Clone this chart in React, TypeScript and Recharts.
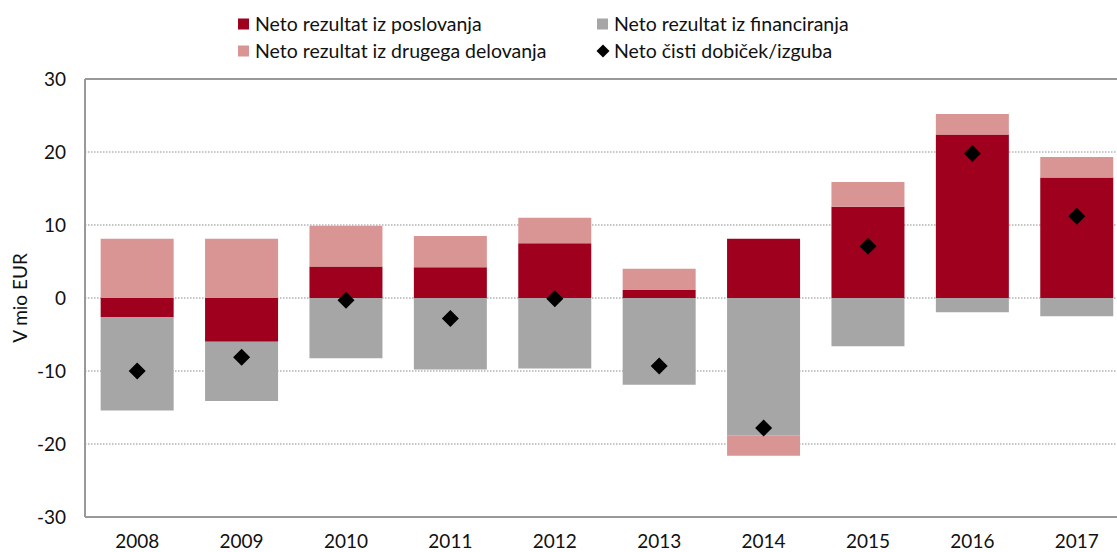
import React from "react";
import {
  ComposedChart,
  Bar,
  Line,
  XAxis,
  YAxis,
  CartesianGrid,
  ReferenceLine,
} from "recharts";

const years = ["2008", "2009", "2010", "2011", "2012", "2013", "2014", "2015", "2016", "2017"];
const poslovanje = [-2.6, -6.0, 4.3, 4.2, 7.5, 1.1, 8.1, 12.5, 22.4, 16.5];
const financiranje = [-12.8, -8.1, -8.25, -9.8, -9.65, -11.9, -18.8, -6.6, -1.95, -2.5];
const drugo = [8.1, 8.1, 5.6, 4.3, 3.5, 2.9, -2.8, 3.4, 2.8, 2.8];
const dobicek = [-10.0, -8.1, -0.3, -2.8, -0.1, -9.3, -17.8, 7.1, 19.8, 11.2];
const yTicks = [-30, -20, -10, 0, 10, 20, 30];

const seriesNames = {
  poslovanje: "Neto rezultat iz poslovanja",
  financiranje: "Neto rezultat iz financiranja",
  drugo: "Neto rezultat iz drugega delovanja",
  dobicek: "Neto čisti dobiček/izguba",
};

const COLORS = {
  poslovanje: "#9E001E",
  financiranje: "#A6A6A6",
  drugo: "#D99594",
  dobicek: "#000000",
};

const data = years.map((y, i) => ({
  year: y,
  poslovanje: poslovanje[i],
  financiranje: financiranje[i],
  drugo: drugo[i],
  dobicek: dobicek[i],
}));

const FONT = "Lato, 'Open Sans', sans-serif";
const FS = 19;

const Diamond = (props: any) => {
  const { cx, cy } = props;
  if (cx == null || cy == null) return null;
  const r = 8.5;
  return (
    <polygon
      points={`${cx},${cy - r} ${cx + r},${cy} ${cx},${cy + r} ${cx - r},${cy}`}
      fill="#000"
    />
  );
};

const XTick = (props: any) => {
  const { x, payload } = props;
  return (
    <text x={x} y={548} textAnchor="middle" fontFamily={FONT} fontSize={FS} fill="#111">
      {payload.value}
    </text>
  );
};

const YTick = (props: any) => {
  const { y, payload } = props;
  return (
    <text x={66} y={y} dy="0.35em" textAnchor="end" fontFamily={FONT} fontSize={FS} fill="#111">
      {payload.value}
    </text>
  );
};

const LegendOverlay = () => {
  const items = [
    { key: "poslovanje", x: 238, y: 24, type: "square" },
    { key: "financiranje", x: 597, y: 24, type: "square" },
    { key: "drugo", x: 238, y: 51, type: "square" },
    { key: "dobicek", x: 597, y: 51, type: "diamond" },
  ];
  return (
    <svg
      width={1117}
      height={75}
      style={{ position: "absolute", left: 0, top: 0, pointerEvents: "none" }}
    >
      {items.map((it) => (
        <g key={it.key}>
          {it.type === "square" ? (
            <rect x={it.x} y={it.y - 5.5} width={11} height={11} fill={(COLORS as any)[it.key]} />
          ) : (
            <polygon
              points={`${it.x + 6},${it.y - 6.5} ${it.x + 12.5},${it.y} ${it.x + 6},${it.y + 6.5} ${it.x - 0.5},${it.y}`}
              fill="#000"
            />
          )}
          <text
            x={it.x + 17}
            y={it.y}
            dy="0.35em"
            fontFamily={FONT}
            fontSize={19.5}
            fill="#111"
          >
            {(seriesNames as any)[it.key]}
          </text>
        </g>
      ))}
    </svg>
  );
};

export default function App() {
  return (
    <div
      style={{
        position: "absolute",
        left: 0,
        top: 0,
        width: 1117,
        height: 552,
        overflow: "hidden",
        background: "#fff",
      }}
    >
      <ComposedChart
        width={1129}
        height={552}
        data={data}
        stackOffset="sign"
        barCategoryGap="15%"
        margin={{ top: 79, right: 0, bottom: 5, left: 25 }}
      >
        <CartesianGrid
          vertical={false}
          stroke="#8a8a8a"
          strokeDasharray="1.5 1.5"
          strokeWidth={1}
        />
        <XAxis
          dataKey="year"
          height={30}
          axisLine={{ stroke: "#999", strokeWidth: 2 }}
          tickLine={false}
          tick={<XTick />}
          interval={0}
        />
        <YAxis
          width={60}
          domain={[-30, 30]}
          ticks={yTicks}
          type="number"
          axisLine={{ stroke: "#999", strokeWidth: 2 }}
          tickLine={false}
          tick={<YTick />}
          interval={0}
          label={{
            value: "V mio EUR",
            angle: -90,
            position: "insideLeft",
            content: (p: any) => {
              const vb = p.viewBox || {};
              const cy = (vb.y ?? 79) + (vb.height ?? 438) / 2;
              return (
                <text
                  x={27}
                  y={cy}
                  transform={`rotate(-90, 27, ${cy})`}
                  textAnchor="middle"
                  fontFamily={FONT}
                  fontSize={FS}
                  fill="#111"
                >
                  V mio EUR
                </text>
              );
            },
          }}
        />
        <ReferenceLine y={30} stroke="#999" strokeWidth={2} />
        <Bar dataKey="poslovanje" name={seriesNames.poslovanje} stackId="a" fill={COLORS.poslovanje} isAnimationActive={false} />
        <Bar dataKey="financiranje" name={seriesNames.financiranje} stackId="a" fill={COLORS.financiranje} isAnimationActive={false} />
        <Bar dataKey="drugo" name={seriesNames.drugo} stackId="a" fill={COLORS.drugo} isAnimationActive={false} />
        <Line
          dataKey="dobicek"
          name={seriesNames.dobicek}
          stroke="none"
          dot={<Diamond />}
          activeDot={false}
          isAnimationActive={false}
        />
      </ComposedChart>
      <LegendOverlay />
    </div>
  );
}
